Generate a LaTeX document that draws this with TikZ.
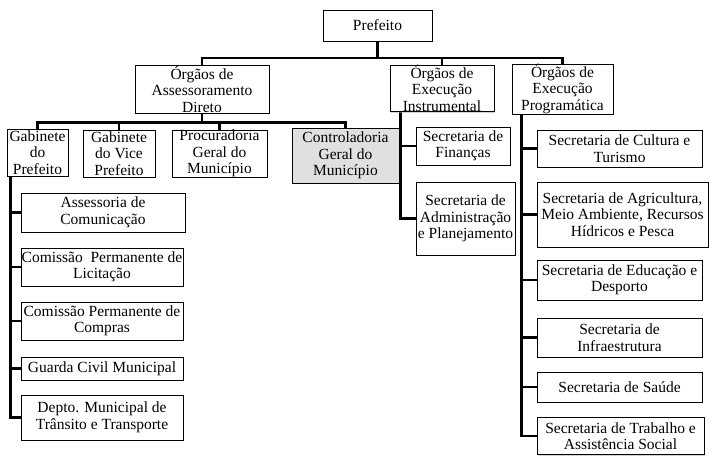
\documentclass[tikz,border=0pt]{standalone}
\usepackage{fontspec}
\setmainfont{Liberation Serif}
\usetikzlibrary{calc,positioning,shadows,backgrounds}

\begin{document}
\begin{tikzpicture}[
    x=1pt,y=-1pt,
    unit/.style={draw=black,fill=white,align=center,inner sep=0pt,
      font=\fontsize{15.5}{16.5}\selectfont,
      drop shadow={shadow xshift=1.3pt,shadow yshift=-1.3pt,fill=black!35}},
    ctrl/.style={unit,fill=black!12},
    link/.style={line width=2.8pt}
    ]
    \useasboundingbox (0,0) rectangle (709,455);

    % top levels
    \node [unit,minimum width=109,minimum height=31] (pref) at (377.5,25.5) {Prefeito};
    \node [unit,minimum width=134,minimum height=48] (ass) at (202,89) {Órgãos de\\Assessoramento\\Direto};
    \node [unit,minimum width=104,minimum height=46] (inst) at (442,88) {Órgãos de\\Execução\\Instrumental};
    \node [unit,minimum width=101,minimum height=48] (prog) at (562.5,89) {Órgãos de\\Execução\\Programática};

    % assessoramento
    \node [unit,minimum width=61,minimum height=47] (gab) at (37.5,152.5) {Gabinete\\do\\Prefeito};
    \node [unit,minimum width=72,minimum height=47] (vice) at (119,153.5) {Gabinete\\do Vice\\Prefeito};
    \node [unit,minimum width=95,minimum height=47] (proc) at (219.5,153.5) {Procuradoria\\Geral do\\Município};
    \node [ctrl,minimum width=107,minimum height=55] (contr) at (345.5,155.5) {Controladoria\\Geral do\\Município};

    % gabinete
    \node [unit,minimum width=164,minimum height=39] (assc) at (103,212.5) {Assessoria de\\Comunicação};
    \node [unit,minimum width=162,minimum height=38] (lic) at (102,267) {Comissão\ \ Permanente de\\Licitação};
    \node [unit,minimum width=162,minimum height=38] (comp) at (102,321) {Comissão Permanente de\\Compras};
    \node [unit,minimum width=162,minimum height=23] (guarda) at (102,368.5) {Guarda Civil Municipal};
    \node [unit,minimum width=162,minimum height=45] (depto) at (102,417.5) {Depto. Municipal de\\Trânsito e Transporte};

    % instrumental
    \node [unit,minimum width=94,minimum height=38] (fin) at (463,146) {Secretaria de\\Finanças};
    \node [unit,minimum width=99,minimum height=73] (adm) at (465.5,218.5) {Secretaria de\\Administração\\e Planejamento};

    % programatica
    \node [unit,minimum width=165,minimum height=37] (cult) at (619.5,148.5) {Secretaria de Cultura e\\Turismo};
    \node [unit,minimum width=171,minimum height=65] (agri) at (622.5,214.5) {Secretaria de Agricultura,\\Meio Ambiente, Recursos\\Hídricos e Pesca};
    \node [unit,minimum width=165,minimum height=40] (edu) at (619.5,280) {Secretaria de Educação e\\Desporto};
    \node [unit,minimum width=165,minimum height=39] (infra) at (619.5,337.5) {Secretaria de\\Infraestrutura};
    \node [unit,minimum width=165,minimum height=30] (saude) at (619.5,387) {Secretaria de Saúde};
    \node [unit,minimum width=167,minimum height=37] (trab) at (620.5,436) {Secretaria de Trabalho e\\Assistência Social};

    \begin{scope}[on background layer]
      % buses
      \coordinate (bus1) at (0,58);
      \coordinate (bus2) at (0,122.5);
      \draw [link] (ass.north) |- (bus1 -| prog.north) -- (prog.north);
      \draw [link] (pref.south) -- (pref.south |- bus1);
      \draw [link] (inst.north) -- (inst.north |- bus1);
      \draw [link] (gab.north) |- (bus2 -| contr.north) -- (contr.north);
      \draw [link] (ass.south) -- (ass.south |- bus2);
      \foreach \n in {vice,proc} {
        \draw [link] (\n.north) -- (\n.north |- bus2);
      }

      % spines
      \coordinate (lsp) at ([xshift=4pt]gab.south west);
      \coordinate (isp) at ([xshift=11pt]inst.south west);
      \coordinate (psp) at ([xshift=10pt]prog.south west);
      \draw [link] (lsp) |- (depto.west);
      \foreach \n in {assc,lic,comp,guarda} {
        \draw [link] (\n.west) -- (\n.west -| lsp);
      }
      \draw [link] (isp) |- (adm.west);
      \draw [link] (fin.west) -- (fin.west -| isp);
      \draw [link] (psp) |- (trab.west);
      \foreach \n in {cult,agri,edu,infra,saude} {
        \draw [link] (\n.west) -- (\n.west -| psp);
      }
    \end{scope}
  \end{tikzpicture}
\end{document}
